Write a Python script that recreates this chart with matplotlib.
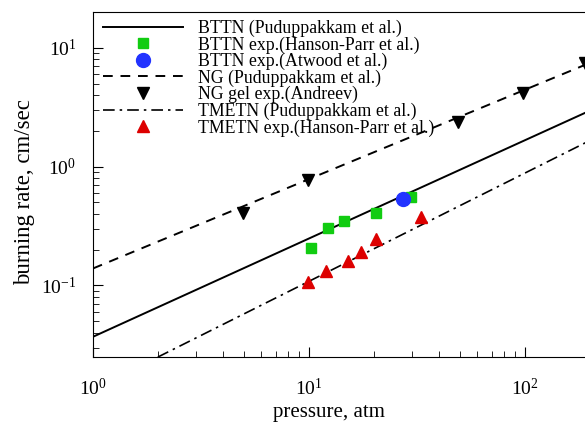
import numpy as np
import matplotlib
matplotlib.use("Agg")
import matplotlib.pyplot as plt

plt.rcParams['font.family'] = ['Liberation Serif', 'DejaVu Serif']
plt.rcParams['mathtext.fontset'] = 'stix'

# model lines r = a * P^n
p_line = np.array([1.0, 200.0])
bttn_a, bttn_n = 0.037, 0.827
ng_a, ng_n = 0.139, 0.752
tmetn_a, tmetn_n = 0.0133, 0.911

# experimental points
bttn_hp_p = [10.2, 12.2, 14.5, 20.4, 29.7]
bttn_hp_r = [0.205, 0.307, 0.351, 0.41, 0.56]
bttn_at_p = [27.1]
bttn_at_r = [0.536]
ng_gel_p = [4.95, 9.9, 49, 98, 190]
ng_gel_r = [0.41, 0.77, 2.38, 4.15, 7.4]
tmetn_p = [9.9, 12.0, 15.1, 17.4, 20.4, 33]
tmetn_r = [0.106, 0.132, 0.16, 0.19, 0.245, 0.375]

fig = plt.figure(figsize=(5.85, 4.23), dpi=100)
ax = fig.add_axes([93/585, 66/423, (590-93)/585, (357-12)/423])

ax.plot(p_line, bttn_a * p_line**bttn_n, 'k-', lw=1.4, label='BTTN (Puduppakkam et al.)')
ax.plot(bttn_hp_p, bttn_hp_r, 's', color='#11CC11', ms=7, ls='none',
        label='BTTN exp.(Hanson-Parr et al.)')
ax.plot(bttn_at_p, bttn_at_r, 'o', color='#2233FF', ms=10, ls='none',
        label='BTTN exp.(Atwood et al.)')
ax.plot(p_line, ng_a * p_line**ng_n, 'k', ls=(0, (5, 4)), lw=1.4, label='NG (Puduppakkam et al.)')
ax.plot(ng_gel_p, ng_gel_r, 'v', color='black', ms=8, ls='none', label='NG gel exp.(Andreev)')
ax.plot(p_line, tmetn_a * p_line**tmetn_n, 'k', ls=(0, (7, 3, 1.5, 3)), lw=1.2,
        label='TMETN (Puduppakkam et al.)')
ax.plot(tmetn_p, tmetn_r, '^', color='#DD0000', ms=8, ls='none',
        label='TMETN exp.(Hanson-Parr et al.)')

ax.set_xscale('log')
ax.set_yscale('log')
ax.set_xlim(1, 200)
ax.set_ylim(0.025, 20)
ax.tick_params(which='both', direction='in', top=False, right=False, labelsize=14)
ax.tick_params(which='major', length=7)
ax.tick_params(which='minor', length=4)
ax.tick_params(axis='x', which='major', pad=15)
ax.tick_params(axis='y', which='major', pad=12)
ax.set_xlabel('pressure, atm', fontsize=15, labelpad=3, x=0.475)
ax.set_ylabel('burning rate, cm/sec', fontsize=16.5, labelpad=4, y=0.478)
ax.spines['right'].set_visible(False)

ax.legend(loc='upper left', bbox_to_anchor=(0.02, 0.978), frameon=False, fontsize=12.8,
          handlelength=4.5, labelspacing=-0.04, borderaxespad=0, handletextpad=0.84,
          borderpad=0)

fig.savefig('out.png', dpi=100)
